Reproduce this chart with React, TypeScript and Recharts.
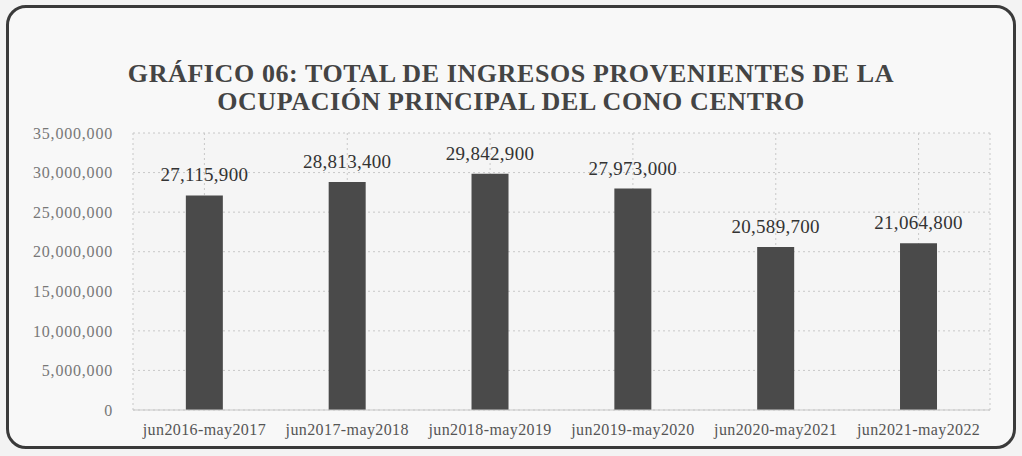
import { BarChart, Bar, XAxis, YAxis, CartesianGrid, LabelList } from 'recharts';

const periods = [
  'jun2016-may2017',
  'jun2017-may2018',
  'jun2018-may2019',
  'jun2019-may2020',
  'jun2020-may2021',
  'jun2021-may2022',
];
const ingresos = [27115900, 28813400, 29842900, 27973000, 20589700, 21064800];
const yTicks = [0, 5000000, 10000000, 15000000, 20000000, 25000000, 30000000, 35000000];
const titleLines = [
  'GRÁFICO 06: TOTAL DE INGRESOS PROVENIENTES DE LA',
  'OCUPACIÓN PRINCIPAL DEL CONO CENTRO',
];

const data = periods.map((p, i) => ({ periodo: p, total: ingresos[i] }));

const fmt = (v: number) => v.toLocaleString('en-US');
const FONT = '"Liberation Serif", "DejaVu Serif", serif';

export default function App() {
  return (
    <div style={{ position: 'absolute', left: 0, top: 0, width: 1022, height: 456, background: '#f3f3f3', fontFamily: FONT }}>
      <div
        style={{
          position: 'absolute', left: 6, top: 5, width: 1004, height: 438,
          border: '3px solid #3a3a3a', borderRadius: 20, background: '#f8f8f8',
        }}
      />
      <div style={{ position: 'absolute', left: 0, top: 60, width: 1022, textAlign: 'center', color: '#444', fontSize: 26, fontWeight: 'bold', lineHeight: '28px', letterSpacing: 0.6 }}>
        {titleLines.map((t) => <div key={t}>{t}</div>)}
      </div>
      <div style={{ position: 'absolute', left: 0, top: 0 }}>
        <BarChart width={1022} height={456} data={data} margin={{ top: 133, right: 32, bottom: 16, left: 4 }} barCategoryGap="37%">
          <CartesianGrid stroke="#c8c8c8" strokeDasharray="2 3" fill="#f5f5f5" />
          <XAxis
            dataKey="periodo"
            axisLine={{ stroke: '#c8c8c8' }}
            tickLine={false}
            tick={{ fontSize: 16, fill: '#555', fontFamily: FONT, letterSpacing: 0.4 }}
            tickMargin={8}
          />
          <YAxis
            domain={[0, 35000000]}
            ticks={yTicks}
            tickFormatter={fmt}
            axisLine={false}
            tickLine={false}
            width={129}
            tick={{ fontSize: 16, fill: '#777', fontFamily: FONT, letterSpacing: 0.8 }}
            tickMargin={14}
          />
          <Bar dataKey="total" fill="#4a4a4a" isAnimationActive={false}>
            <LabelList dataKey="total" position="top" offset={14} formatter={(v: any) => fmt(Number(v))} style={{ fontSize: 19, fill: '#333', fontFamily: FONT, letterSpacing: 0.3 }} />
          </Bar>
        </BarChart>
      </div>
    </div>
  );
}
